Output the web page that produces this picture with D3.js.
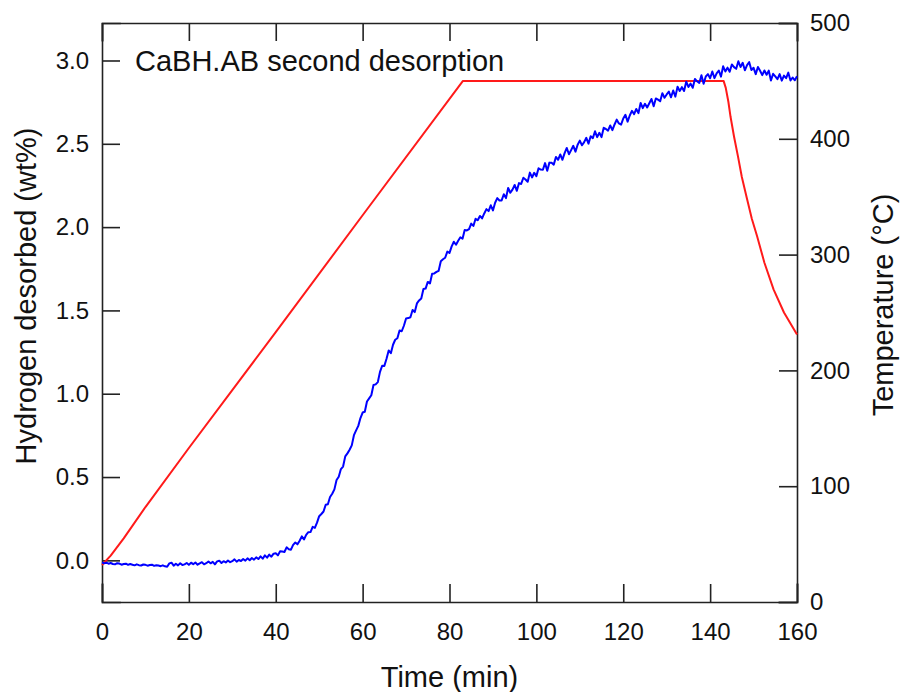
<!DOCTYPE html>
<html>
<head>
<meta charset="utf-8">
<script src="https://cdn.jsdelivr.net/npm/d3@7"></script>
<style>
	body { margin: 0; background: #fff; }
	svg { display: block; font-family: "Liberation Sans", Arial, sans-serif; }
	.axis path, .axis line { stroke: #222; stroke-width: 1.6; }
	.axis text { fill: #111; font-size: 24px; font-family: "Liberation Sans", Arial, sans-serif; }
</style>
</head>
<body>
<svg id="chart" width="901" height="692"></svg>
<script>
/**
* Data
*/
var h2Step = 0.5; // minutes between hydrogen samples
var h2Values = [
	-0.012, -0.018, -0.014, -0.020, -0.016, -0.022, -0.024, -0.017, -0.019, -0.026,
	-0.022, -0.020, -0.027, -0.022, -0.026, -0.030, -0.024, -0.029, -0.031, -0.025,
	-0.027, -0.032, -0.028, -0.026, -0.033, -0.029, -0.031, -0.035, -0.030, -0.036,
	-0.038, -0.018, -0.014, -0.032, -0.020, -0.030, -0.017, -0.028, -0.024, -0.016,
	-0.027, -0.014, -0.023, -0.013, -0.026, -0.018, -0.011, -0.024, -0.017, -0.007,
	-0.018, -0.009, -0.024, -0.006, -0.002, -0.016, -0.005, -0.013, -0.001, -0.011,
	-0.005, 0.006, -0.008, 0.002, -0.004, 0.008, -0.002, 0.012, 0.001, 0.014,
	0.004, 0.018, 0.008, 0.024, 0.010, 0.030, 0.016, 0.034, 0.022, 0.040,
	0.043, 0.030, 0.055, 0.053, 0.050, 0.078, 0.067, 0.064, 0.093, 0.107,
	0.096, 0.118, 0.144, 0.125, 0.153, 0.169, 0.170, 0.201, 0.195, 0.226,
	0.265, 0.278, 0.293, 0.334, 0.337, 0.380, 0.400, 0.426, 0.482, 0.502,
	0.548, 0.563, 0.624, 0.642, 0.664, 0.690, 0.751, 0.780, 0.807, 0.854,
	0.887, 0.892, 0.953, 0.972, 0.991, 1.052, 1.056, 1.070, 1.131, 1.168,
	1.167, 1.210, 1.260, 1.243, 1.294, 1.324, 1.333, 1.380, 1.375, 1.408,
	1.452, 1.454, 1.459, 1.503, 1.490, 1.542, 1.560, 1.572, 1.628, 1.631,
	1.671, 1.662, 1.720, 1.722, 1.731, 1.738, 1.795, 1.807, 1.816, 1.853,
	1.845, 1.884, 1.912, 1.894, 1.918, 1.939, 1.930, 1.983, 1.980, 1.988,
	2.021, 2.007, 2.050, 2.041, 2.067, 2.052, 2.082, 2.108, 2.096, 2.131,
	2.100, 2.146, 2.174, 2.160, 2.160, 2.197, 2.174, 2.235, 2.206, 2.225,
	2.253, 2.218, 2.264, 2.259, 2.296, 2.286, 2.272, 2.327, 2.298, 2.326,
	2.306, 2.353, 2.345, 2.344, 2.384, 2.338, 2.387, 2.386, 2.375, 2.421,
	2.404, 2.436, 2.404, 2.444, 2.475, 2.437, 2.462, 2.488, 2.453, 2.494,
	2.519, 2.491, 2.510, 2.536, 2.501, 2.545, 2.534, 2.575, 2.540, 2.566,
	2.540, 2.596, 2.589, 2.579, 2.610, 2.582, 2.616, 2.645, 2.622, 2.615,
	2.652, 2.674, 2.633, 2.670, 2.698, 2.678, 2.709, 2.684, 2.745, 2.714,
	2.740, 2.718, 2.743, 2.769, 2.725, 2.772, 2.765, 2.755, 2.804, 2.776,
	2.796, 2.813, 2.779, 2.820, 2.783, 2.842, 2.817, 2.840, 2.817, 2.873,
	2.841, 2.861, 2.836, 2.889, 2.875, 2.865, 2.912, 2.860, 2.904, 2.918,
	2.893, 2.934, 2.894, 2.923, 2.940, 2.903, 2.965, 2.934, 2.957, 2.932,
	2.976, 2.960, 2.950, 2.995, 2.961, 2.986, 2.941, 2.972, 2.990, 2.943,
	2.956, 2.918, 2.961, 2.938, 2.912, 2.940, 2.914, 2.939, 2.880, 2.920,
	2.905, 2.888, 2.918, 2.879, 2.909, 2.894, 2.927, 2.880, 2.898, 2.881,
	2.905
];

var tempTime = [0, 2, 5, 10, 20, 40, 60, 83.1, 143.1, 143.6, 144.2, 144.7, 145.5, 146.4, 147.3, 148.5, 149.6, 150.8, 152.5, 154.6, 157, 160];
var tempValue = [32, 40, 55, 82, 133, 233, 334, 450, 450, 444, 432, 419, 402, 385, 367, 348, 331, 316, 293, 270, 250, 231];

var timeTicks = [0, 20, 40, 60, 80, 100, 120, 140, 160];
var h2Ticks = [0, 0.5, 1, 1.5, 2, 2.5, 3];
var tempTicks = [0, 100, 200, 300, 400, 500];

var titleText = "CaBH.AB second desorption";

/**
* @func Draw the desorption chart
*/
function draw_chart(svg_id)
{
	let svg = d3.select(svg_id),
		width = +svg.attr("width"),
		height = +svg.attr("height");

	let margin = {top: 23, right: 104, bottom: 90, left: 102};
	let w = width - margin.left - margin.right,
		h = height - margin.top - margin.bottom;

	let g = svg.append("g")
		.attr("transform", "translate(" + margin.left + "," + margin.top + ")");

	let x = d3.scaleLinear().domain([0, 160]).range([0, w]);
	let yLeft = d3.scaleLinear().domain([-0.25, 3.225]).range([h, 0]);
	let yRight = d3.scaleLinear().domain([0, 500]).range([h, 0]);

	// axes, ticks pointing inward
	g.append("g")
		.attr("class", "axis")
		.attr("transform", "translate(0," + h + ")")
		.call(d3.axisBottom(x).tickValues(timeTicks).tickSize(-18).tickPadding(21));

	g.append("g")
		.attr("class", "axis")
		.call(d3.axisTop(x).tickValues(timeTicks).tickSize(-18).tickFormat(""));

	g.append("g")
		.attr("class", "axis")
		.call(d3.axisLeft(yLeft).tickValues(h2Ticks).tickSize(-18).tickPadding(13).tickFormat(d3.format(".1f")));

	g.append("g")
		.attr("class", "axis")
		.attr("transform", "translate(" + w + ",0)")
		.call(d3.axisRight(yRight).tickValues(tempTicks).tickSize(-18).tickPadding(13));

	g.selectAll(".axis .domain").attr("stroke-linecap", "square");

	// temperature (right axis)
	let tempData = tempTime.map(function(t, i) { return {t: t, v: tempValue[i]}; });
	g.append("path")
		.datum(tempData)
		.attr("fill", "none")
		.attr("stroke", "#ff1a1a")
		.attr("stroke-width", 2)
		.attr("stroke-linejoin", "round")
		.attr("d", d3.line()
			.x(function(d) { return x(d.t); })
			.y(function(d) { return yRight(d.v); }));

	// hydrogen desorbed (left axis)
	let h2Data = h2Values.map(function(v, i) { return {t: i * h2Step, v: v}; });
	g.append("path")
		.datum(h2Data)
		.attr("fill", "none")
		.attr("stroke", "#0000ff")
		.attr("stroke-width", 2)
		.attr("stroke-linejoin", "round")
		.attr("d", d3.line()
			.x(function(d) { return x(d.t); })
			.y(function(d) { return yLeft(d.v); }));

	// texts
	svg.append("text")
		.attr("x", 135)
		.attr("y", 71)
		.style("font-size", "29px")
		.style("fill", "#111")
		.text(titleText);

	svg.append("text")
		.attr("x", margin.left + w / 2)
		.attr("y", 687)
		.attr("text-anchor", "middle")
		.style("font-size", "29px")
		.style("fill", "#111")
		.text("Time (min)");

	svg.append("text")
		.attr("transform", "translate(36,296) rotate(-90)")
		.attr("text-anchor", "middle")
		.style("font-size", "29px")
		.style("fill", "#111")
		.text("Hydrogen desorbed (wt%)");

	svg.append("text")
		.attr("transform", "translate(893,305) rotate(-90)")
		.attr("text-anchor", "middle")
		.style("font-size", "29px")
		.style("fill", "#111")
		.text("Temperature (°C)");
}

draw_chart("#chart");
</script>
</body>
</html>
